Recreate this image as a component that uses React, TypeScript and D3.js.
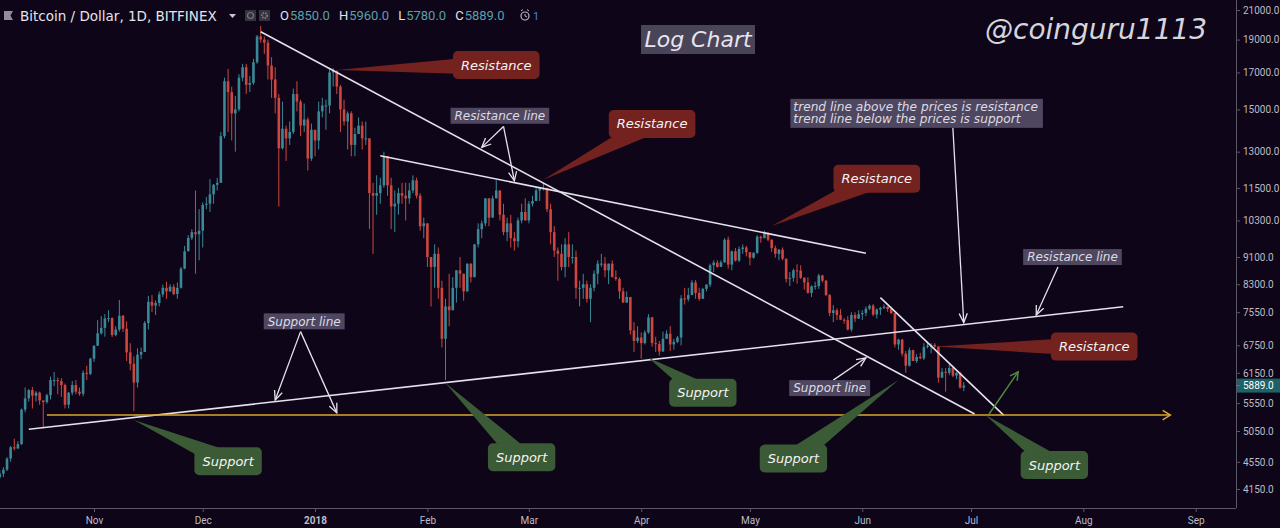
import { useEffect, useRef } from "react";
import * as d3 from "d3";

const parseDay = d3.timeParse("%Y-%m-%d");
const day = (s: string) => parseDay(s) as Date;

// daily candles from 2017-10-06, rows are [high, low, close]; open = previous close
const firstDay = "2017-10-06";
const firstOpen = 4320;

const oct2017 = [
  [4420, 4300, 4370], [4470, 4320, 4430], [4620, 4410, 4600], [4800, 4550, 4780], [4920, 4730, 4760],
  [4880, 4750, 4830], [5450, 4820, 5430], [5850, 5380, 5640], [5820, 5580, 5800], [5860, 5450, 5690],
  [5780, 5580, 5750], [5770, 5520, 5600], [5600, 5100, 5570], [5730, 5540, 5700], [6070, 5620, 6000],
  [6170, 5880, 6000], [6050, 5720, 5980], [6040, 5670, 5900], [5930, 5450, 5520], [5760, 5450, 5750],
  [5980, 5700, 5900], [6000, 5720, 5770], [5850, 5690, 5730], [6200, 5680, 6150], [6300, 6000, 6130],
  [6470, 6100, 6450],
];
const nov2017 = [
  [6750, 6380, 6740], [7350, 6740, 7030], [7450, 7000, 7160], [7500, 6950, 7390], [7600, 7300, 7400],
  [7420, 6940, 6990], [7200, 6960, 7120], [7870, 7070, 7460], [7480, 7060, 7140], [7320, 6400, 6590],
  [6800, 6200, 6340], [6500, 5400, 5950], [6680, 5850, 6540], [6700, 6440, 6600], [7330, 6600, 7280],
  [7980, 7120, 7820], [8000, 7550, 7720], [7860, 7480, 7790], [8100, 7700, 8020], [8290, 7950, 8200],
  [8370, 7900, 8100], [8300, 8100, 8230], [8300, 8000, 8030], [8350, 7900, 8200], [8800, 8180, 8750],
  [9450, 8730, 9280], [9800, 9280, 9710], [10000, 9640, 9900], [11400, 8600, 9830], [10700, 9000, 9950],
];
const dec2017 = [
  [10950, 9400, 10860], [11150, 10700, 10900], [11850, 10600, 11250], [11650, 10900, 11620], [11900, 11400, 11700],
  [13900, 11700, 13700], [16700, 13600, 16500], [17200, 13900, 15900], [16200, 13500, 14800], [15700, 13000, 15000],
  [16900, 14900, 16700], [17500, 16500, 17300], [17500, 15800, 16300], [16800, 15900, 16400], [17800, 16300, 17600],
  [19300, 17500, 19200], [19900, 18800, 19000], [19200, 18100, 18800], [19000, 16600, 17400], [17900, 15600, 16600],
  [17300, 14800, 15600], [15800, 10800, 13150], [15400, 13100, 14050], [14200, 12600, 13600], [14400, 13300, 13900],
  [16100, 13800, 15800], [16500, 14900, 15400], [15500, 13700, 14200], [15300, 13900, 14500], [14600, 12200, 12700],
  [14300, 12600, 14000],
];
const jan2018 = [
  [14000, 12800, 13500], [15400, 13100, 14900], [15600, 14600, 15200], [15500, 14000, 15200], [17200, 14800, 17000],
  [17250, 16200, 17100], [17100, 15800, 16200], [16300, 13900, 15000], [15500, 14200, 14400], [14900, 13100, 14800],
  [14900, 12800, 13300], [14100, 12800, 13800], [14600, 13800, 14200], [14400, 13100, 13600], [14400, 13300, 13600],
  [13600, 10000, 11300], [11700, 9200, 11200], [12000, 10500, 11300], [11900, 10900, 11600], [13000, 11500, 12800],
  [12800, 11200, 11600], [11900, 10000, 10800], [11400, 9900, 10900], [11500, 10500, 11300], [11700, 10900, 11200],
  [11700, 10300, 11100], [11700, 10900, 11400], [12000, 11300, 11800], [11900, 11100, 11200], [11300, 9950, 10100],
  [10400, 9700, 10200],
];
const feb2018 = [
  [10200, 8800, 9100], [9100, 7700, 8800], [9500, 8200, 9200], [9400, 7900, 8200], [8400, 6700, 6900],
  [7900, 6000, 7700], [8600, 7200, 7600], [8500, 7600, 8200], [8700, 7800, 8700], [9100, 8200, 8600],
  [8600, 7850, 8100], [8900, 8100, 8900], [8900, 8350, 8500], [9500, 8500, 9500], [10200, 9400, 10000],
  [10300, 9700, 10200], [11100, 10100, 11100], [11100, 10100, 10400], [11200, 10400, 11100], [11800, 11100, 11400],
  [11400, 10300, 10500], [10900, 9800, 9900], [10400, 9600, 10200], [10500, 9400, 9700], [9900, 9300, 9600],
  [10400, 9400, 10300], [10900, 10200, 10600], [11100, 10300, 10300],
];
const mar2018 = [
  [11000, 10200, 10900], [11200, 10800, 11000], [11500, 11000, 11400], [11500, 11000, 11500], [11700, 11400, 11500],
  [11500, 10600, 10700], [10900, 9500, 9900], [10100, 9100, 9300], [9400, 8400, 9200], [9500, 8700, 8800],
  [9700, 8500, 9500], [9900, 8800, 9100], [9500, 8900, 9100], [9300, 7900, 8200], [8400, 7700, 8200],
  [8600, 7900, 8300], [8400, 7800, 7900], [8300, 7300, 8200], [8700, 8100, 8600], [9000, 8300, 8900],
  [9200, 8800, 8900], [9100, 8500, 8700], [8900, 8300, 8900], [9000, 8500, 8500], [8700, 8400, 8450],
  [8500, 7900, 8100], [8200, 7800, 7800], [8100, 7800, 7950], [7950, 7000, 7100], [7300, 6600, 6850],
  [7200, 6800, 6930],
];
const apr2018 = [
  [7050, 6450, 6800], [7100, 6770, 7050], [7500, 7020, 7420], [7430, 6720, 6800], [6950, 6600, 6780],
  [6850, 6520, 6610], [7070, 6600, 6900], [7100, 6900, 7020], [7200, 6620, 6770], [6900, 6650, 6830],
  [6970, 6800, 6930], [8000, 6750, 7910], [8200, 7750, 7890], [8200, 7830, 8000], [8420, 8000, 8350],
  [8420, 7900, 8060], [8200, 7850, 7900], [8200, 7900, 8170], [8300, 8100, 8290], [8900, 8220, 8850],
  [9000, 8650, 8930], [9000, 8780, 8800], [9000, 8800, 8940], [9700, 8920, 9650], [9750, 8750, 8870],
  [9300, 8700, 9280], [9380, 8960, 8990], [9430, 8950, 9350], [9500, 9200, 9400], [9450, 9120, 9250],
];
const may2018 = [
  [9250, 8850, 9080], [9250, 9050, 9230], [9800, 9200, 9750], [9780, 9550, 9700], [9950, 9700, 9850],
  [9900, 9600, 9650], [9660, 9260, 9380], [9460, 9080, 9200], [9350, 9000, 9330], [9400, 9000, 9050],
  [9050, 8350, 8450], [8650, 8250, 8480], [8750, 8370, 8700], [8880, 8320, 8690], [8850, 8450, 8480],
  [8500, 8150, 8350], [8500, 8040, 8060], [8270, 7950, 8240], [8370, 8150, 8250], [8600, 8170, 8550],
  [8570, 8350, 8400], [8420, 7980, 8000], [8030, 7450, 7530], [7730, 7300, 7600], [7650, 7350, 7480],
  [7630, 7350, 7360], [7400, 7260, 7350], [7450, 7100, 7120], [7550, 7070, 7480], [7550, 7300, 7390],
  [7600, 7380, 7500],
];
const jun2018 = [
  [7600, 7350, 7530], [7700, 7450, 7640], [7750, 7600, 7720], [7760, 7450, 7490], [7650, 7390, 7620],
  [7690, 7480, 7660], [7750, 7630, 7690], [7700, 7560, 7630], [7690, 7500, 7530], [7530, 6700, 6770],
  [6900, 6650, 6880], [6900, 6500, 6560], [6620, 6150, 6300], [6700, 6280, 6640], [6650, 6400, 6400],
  [6550, 6360, 6490], [6580, 6440, 6460], [6800, 6420, 6710], [6840, 6680, 6740], [6800, 6570, 6760],
  [6800, 6690, 6720], [6740, 5950, 6050], [6250, 6040, 6170], [6250, 5770, 6150], [6330, 6100, 6250],
  [6280, 6060, 6090], [6170, 6020, 6150], [6170, 5830, 5850], [5960, 5780, 5889],
];

const priceTicks = [21000, 19000, 17000, 15000, 13000, 11500, 10300, 9100, 8300, 7550, 6750, 6150, 5550, 5050, 4550, 4150];
const monthTicks = ["2017-11-01", "2017-12-01", "2018-01-01", "2018-02-01", "2018-03-01", "2018-04-01", "2018-05-01", "2018-06-01", "2018-07-01", "2018-08-01", "2018-09-01"];
const monthLabels = ["Nov", "Dec", "2018", "Feb", "Mar", "Apr", "May", "Jun", "Jul", "Aug", "Sep"];

// drawings, anchored at [date, price]
type Pt = [string, number];
const trendLines: [Pt, Pt][] = [
  [["2017-12-17", 19510], ["2018-07-02", 5350]],
  [["2018-01-19", 12820], ["2018-06-02", 9220]],
  [["2017-10-14", 5080], ["2018-08-12", 7690]],
  [["2018-06-06", 7930], ["2018-07-10", 5330]],
];
const supportLevel = { from: "2017-10-19", to: "2018-08-25", price: 5330 };
const breakoutArrow: [Pt, Pt] = [["2018-07-06", 5350], ["2018-07-14", 6170]];

const resistanceNotes: { at: Pt; tip: Pt }[] = [
  { at: ["2018-02-20", 17430], tip: ["2018-01-07", 17140] },
  { at: ["2018-04-04", 14280], tip: ["2018-03-05", 11820] },
  { at: ["2018-06-05", 11860], tip: ["2018-05-07", 10110] },
  { at: ["2018-08-04", 6720], tip: ["2018-06-21", 6720] },
];
const supportNotes: { at: Pt; tip: Pt }[] = [
  { at: ["2017-12-08", 4560], tip: ["2017-11-12", 5240] },
  { at: ["2018-02-27", 4620], tip: ["2018-02-06", 5940] },
  { at: ["2018-04-18", 5750], tip: ["2018-04-03", 6470] },
  { at: ["2018-05-13", 4600], tip: ["2018-06-11", 6000] },
  { at: ["2018-07-24", 4500], tip: ["2018-07-05", 5330] },
];
const lineLabels: { text: string; at: Pt; from: Pt; tips: Pt[] }[] = [
  { text: "Resistance line", at: ["2018-02-21", 14680], from: ["2018-02-22", 14160], tips: [["2018-02-16", 13190], ["2018-02-25", 11780]] },
  { text: "Support line", at: ["2017-12-29", 7320], from: ["2017-12-28", 7070], tips: [["2017-12-21", 5610], ["2018-01-07", 5370]] },
  { text: "Support line", at: ["2018-05-23", 5840], from: ["2018-05-24", 6000], tips: [["2018-06-02", 6470]] },
  { text: "Resistance line", at: ["2018-07-29", 9100], from: ["2018-07-25", 8800], tips: [["2018-07-19", 7480]] },
];
const noteText = ["trend line above the prices is resistance", "trend line below the prices is support"];
const noteAt: Pt = ["2018-06-16", 14800];
const noteArrow: [Pt, Pt] = [["2018-06-26", 14090], ["2018-06-29", 7290]];

const BG = "#0e0518";
const UP = "#3a8996";
const DOWN = "#cf463f";
const LINE = "#e4e2ec";
const AXIS = "#5a5866";
const AXIS_TEXT = "#bdbcc6";
const RED_NOTE = "#74221f";
const GREEN_NOTE = "#3b5a36";
const LABEL_BG = "#4f4760";
const DEJAVU = "'DejaVu Sans', sans-serif";

const measureCtx = typeof document !== "undefined" ? document.createElement("canvas").getContext("2d") : null;
function textWidth(text: string, font: string) {
  if (!measureCtx) return text.length * 7;
  measureCtx.font = font;
  return measureCtx.measureText(text).width;
}

function arrowHead(from: [number, number], to: [number, number], len = 10, ang = 0.42) {
  const a = Math.atan2(to[1] - from[1], to[0] - from[0]);
  const p1 = [to[0] - len * Math.cos(a - ang), to[1] - len * Math.sin(a - ang)];
  const p2 = [to[0] - len * Math.cos(a + ang), to[1] - len * Math.sin(a + ang)];
  return `M${p1[0]},${p1[1]}L${to[0]},${to[1]}L${p2[0]},${p2[1]}`;
}

function Bubble({ c, tip, text, fill }: { c: [number, number]; tip: [number, number]; text: string; fill: string }) {
  const w = textWidth(text, `italic 13px ${DEJAVU}`) + 16;
  const h = 28;
  const a = Math.atan2(tip[1] - c[1], tip[0] - c[0]);
  const hw = 10;
  const tail = `M${c[0] - hw * Math.sin(a)},${c[1] + hw * Math.cos(a)}L${tip[0]},${tip[1]}L${c[0] + hw * Math.sin(a)},${c[1] - hw * Math.cos(a)}Z`;
  return (
    <g>
      <path d={tail} fill={fill} />
      <rect x={c[0] - w / 2} y={c[1] - h / 2} width={w} height={h} rx={5} fill={fill} />
      <text x={c[0]} y={c[1] + 4.5} textAnchor="middle" fill="#f4f4f4" fontSize={13} fontStyle="italic" fontFamily={DEJAVU}>
        {text}
      </text>
    </g>
  );
}

export default function App() {
  const gxRef = useRef<SVGGElement | null>(null);
  const gyRef = useRef<SVGGElement | null>(null);

  const x = d3.scaleTime().domain([day("2017-11-01"), day("2018-07-01")]).range([94, 971]);
  const y = d3.scaleLog().domain([4150, 21000]).range([489, 10]);
  const P = (p: Pt): [number, number] => [x(day(p[0])), y(p[1])];

  const start = day(firstDay);
  let prev = firstOpen;
  const candles = [oct2017, nov2017, dec2017, jan2018, feb2018, mar2018, apr2018, may2018, jun2018]
    .flat()
    .map(([h, l, c], i) => {
      const o = prev;
      prev = c;
      return { date: d3.timeDay.offset(start, i), o, h, l, c };
    });
  const last = candles[candles.length - 1];

  const plotRight = 1236;
  const plotBottom = 508;

  useEffect(() => {
    if (gyRef.current) {
      const g = d3.select(gyRef.current);
      g.call(d3.axisRight(y).tickValues(priceTicks).tickFormat(d3.format(".1f")).tickSize(4).tickPadding(3));
      g.attr("font-family", "Roboto, sans-serif").attr("font-size", 10);
      g.select(".domain").remove();
      g.selectAll(".tick line").attr("stroke", AXIS);
      g.selectAll(".tick text").attr("fill", AXIS_TEXT);
    }
    if (gxRef.current) {
      const g = d3.select(gxRef.current);
      g.call(
        d3
          .axisBottom(x)
          .tickValues(monthTicks.map(day))
          .tickFormat((_d, i) => monthLabels[i])
          .tickSize(4)
          .tickPadding(5)
      );
      g.attr("font-family", "Roboto, sans-serif").attr("font-size", 10);
      g.select(".domain").remove();
      g.selectAll(".tick line").attr("stroke", AXIS);
      g.selectAll<SVGTextElement, Date>(".tick text")
        .attr("fill", AXIS_TEXT)
        .attr("font-weight", (_d, i) => (monthLabels[i] === "2018" ? "bold" : "normal"));
    }
  }, []);

  const noteW = d3.max(noteText, (t) => textWidth(t, `italic 12.2px ${DEJAVU}`))! + 8;
  const noteC = P(noteAt);

  return (
    <svg width={1280} height={528} style={{ position: "fixed", left: 0, top: 0, background: BG }}>
      <rect width={1280} height={528} fill={BG} />
      <defs>
        <clipPath id="plot">
          <rect x={0} y={0} width={plotRight} height={plotBottom} />
        </clipPath>
      </defs>

      {/* candles */}
      <g clipPath="url(#plot)">
        {candles.map((d, i) => {
          const cx = x(d.date);
          const col = d.c >= d.o ? UP : DOWN;
          const top = y(Math.max(d.o, d.c));
          const bot = y(Math.min(d.o, d.c));
          return (
            <g key={i}>
              <line x1={cx} x2={cx} y1={y(Math.max(d.h, d.o, d.c))} y2={y(Math.min(d.l, d.o, d.c))} stroke={col} strokeWidth={1} />
              <rect x={cx - 1.3} y={top} width={2.6} height={Math.max(1, bot - top)} fill={col} />
            </g>
          );
        })}
      </g>

      {/* drawings */}
      <g clipPath="url(#plot)">
        {trendLines.map(([a, b], i) => {
          const p = P(a), q = P(b);
          return <line key={i} x1={p[0]} y1={p[1]} x2={q[0]} y2={q[1]} stroke={LINE} strokeWidth={1.6} />;
        })}
        <line
          x1={x(day(supportLevel.from))}
          x2={x(day(supportLevel.to))}
          y1={y(supportLevel.price)}
          y2={y(supportLevel.price)}
          stroke="#d9a72a"
          strokeWidth={1.5}
        />
        <path
          d={arrowHead([x(day(supportLevel.from)), y(supportLevel.price)], [x(day(supportLevel.to)), y(supportLevel.price)], 9, 0.55)}
          fill="none"
          stroke="#d9a72a"
          strokeWidth={1.5}
        />
        {(() => {
          const p = P(breakoutArrow[0]), q = P(breakoutArrow[1]);
          return (
            <g stroke="#4f8a3c" strokeWidth={1.5} fill="none">
              <line x1={p[0]} y1={p[1]} x2={q[0]} y2={q[1]} />
              <path d={arrowHead(p, q, 9, 0.5)} />
            </g>
          );
        })()}
      </g>

      {resistanceNotes.map((n, i) => (
        <Bubble key={"r" + i} c={P(n.at)} tip={P(n.tip)} text="Resistance" fill={RED_NOTE} />
      ))}
      {supportNotes.map((n, i) => (
        <Bubble key={"s" + i} c={P(n.at)} tip={P(n.tip)} text="Support" fill={GREEN_NOTE} />
      ))}

      {lineLabels.map((l, i) => {
        const c = P(l.at);
        const f = P(l.from);
        const w = textWidth(l.text, `italic 12px ${DEJAVU}`) + 8;
        return (
          <g key={"l" + i}>
            {l.tips.map((t, j) => {
              const q = P(t);
              return (
                <g key={j} stroke={LINE} strokeWidth={1.3} fill="none">
                  <line x1={f[0]} y1={f[1]} x2={q[0]} y2={q[1]} />
                  <path d={arrowHead(f, q, 10, 0.42)} />
                </g>
              );
            })}
            <rect x={c[0] - w / 2} y={c[1] - 8} width={w} height={16} fill={LABEL_BG} />
            <text x={c[0]} y={c[1] + 4.3} textAnchor="middle" fill="#dcdbe4" fontSize={12} fontStyle="italic" fontFamily={DEJAVU}>
              {l.text}
            </text>
          </g>
        );
      })}

      {/* explanation note */}
      {(() => {
        const p = P(noteArrow[0]), q = P(noteArrow[1]);
        return (
          <g stroke={LINE} strokeWidth={1.3} fill="none">
            <line x1={p[0]} y1={p[1]} x2={q[0]} y2={q[1]} />
            <path d={arrowHead(p, q, 10, 0.42)} />
          </g>
        );
      })()}
      <rect x={noteC[0] - noteW / 2} y={noteC[1] - 14.5} width={noteW} height={29} fill={LABEL_BG} />
      {noteText.map((t, i) => (
        <text
          key={i}
          x={noteC[0] - noteW / 2 + 3}
          y={noteC[1] - 2.5 + i * 12.5}
          fill="#dcdbe4"
          fontSize={12.2}
          fontStyle="italic"
          fontFamily={DEJAVU}
        >
          {t}
        </text>
      ))}

      {/* title box and watermark */}
      <rect x={641} y={25} width={114} height={29} fill="#4a4459" />
      <text x={698} y={47} textAnchor="middle" fill="#e6e5ee" fontSize={22} fontStyle="italic" fontFamily={DEJAVU}>
        Log Chart
      </text>
      <text x={985} y={39} fill="#d6d5dc" fontSize={28} fontStyle="italic" fontFamily={DEJAVU}>
        @coinguru1113
      </text>

      {/* axes */}
      <line x1={plotRight + 0.5} x2={plotRight + 0.5} y1={0} y2={plotBottom} stroke={AXIS} />
      <line x1={0} x2={plotRight} y1={plotBottom + 0.5} y2={plotBottom + 0.5} stroke={AXIS} />
      <g ref={gyRef} transform={`translate(${plotRight},0)`} />
      <g ref={gxRef} transform={`translate(0,${plotBottom})`} />
      <rect x={plotRight + 1} y={y(last.c) - 7} width={43} height={14} fill="#1f6165" />
      <line x1={plotRight} x2={plotRight + 4} y1={y(last.c)} y2={y(last.c)} stroke="#2f8a90" />
      <text x={plotRight + 7} y={y(last.c) + 3.6} fill="#ffffff" fontSize={10} fontFamily="Roboto, sans-serif">
        {d3.format(".1f")(last.c)}
      </text>

      {/* header */}
      <path d="M4,11L13,11L10.5,15.5L13,20L4,20Z" fill="#8e8d99" />
      <text x={20} y={20.5} fill="#e4e4ea" fontSize={13.5} fontFamily={DEJAVU}>
        Bitcoin / Dollar, 1D, BITFINEX
      </text>
      <path d="M229,14L236,14L232.5,18Z" fill="#c8c8d0" />
      <rect x={245} y={10} width={11} height={11} fill="#35333f" />
      <circle cx={250.5} cy={15.5} r={3} fill="none" stroke="#77767f" strokeWidth={1.2} />
      <rect x={259} y={10} width={11} height={11} fill="#35333f" />
      <circle cx={264.5} cy={15.5} r={2.6} fill="none" stroke="#77767f" strokeWidth={2} strokeDasharray="1.5 1" />
      <text x={280} y={20} fontSize={13} fontFamily="Roboto, sans-serif">
        {["O", "H", "L", "C"].map((k, i) => (
          <tspan key={k} dx={i === 0 ? 0 : 9}>
            <tspan fill="#e4e4ea">{k}</tspan>
            <tspan fill="#59a0aa" dx={1}>{d3.format(".1f")([last.o, last.h, last.l, last.c][i])}</tspan>
          </tspan>
        ))}
      </text>
      <circle cx={525} cy={16} r={4} fill="none" stroke="#b8b8c2" strokeWidth={1.2} />
      <path d="M521,11L523,9.5M529,11L527,9.5M525,14L525,16L527,17" fill="none" stroke="#b8b8c2" strokeWidth={1} />
      <text x={533} y={20} fill="#3f82dc" fontSize={11} fontFamily="Roboto, sans-serif">
        1
      </text>
    </svg>
  );
}
